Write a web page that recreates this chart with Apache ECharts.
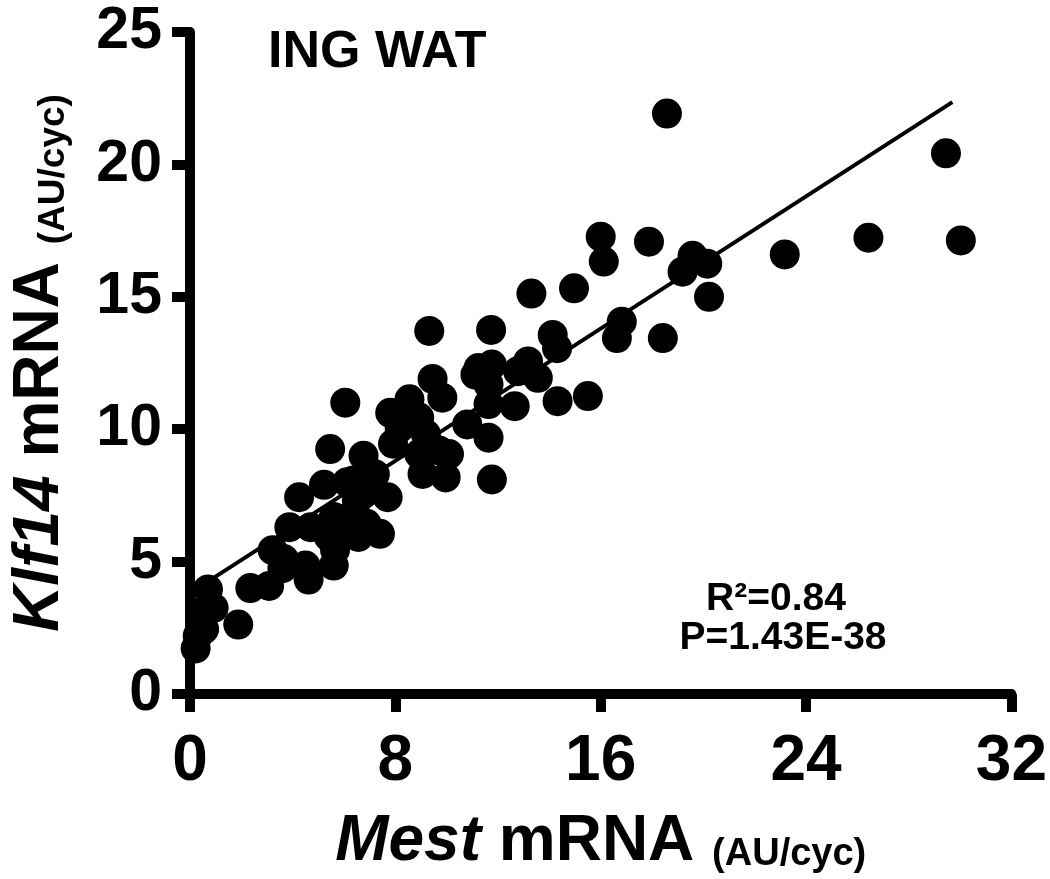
<!DOCTYPE html>
<html>
<head>
<meta charset="utf-8">
<script src="https://cdn.jsdelivr.net/npm/echarts@6/dist/echarts.min.js"></script>
<style>
  html, body { margin: 0; padding: 0; background: #fff; }
  #chart { width: 1050px; height: 879px; }
</style>
</head>
<body>
<div id="chart"></div>
<script>
// Mest mRNA (x) vs Klf14 mRNA (y)
var mestX = [
  0.22, 0.30, 0.55, 0.60, 0.92, 0.70, 1.88, 2.35, 3.08, 3.22,
  3.65, 3.60, 3.87, 4.50, 4.62, 4.25, 4.70, 5.60, 5.65, 5.41,
  5.86, 5.60, 6.24, 6.56, 6.88, 6.50, 6.76, 6.12, 5.22, 6.37,
  5.46, 6.76, 6.05, 7.40, 7.70, 7.91, 7.80, 8.17, 8.55, 8.93,
  9.19, 9.70, 8.93, 9.06, 9.96, 10.09, 9.45, 9.83, 9.32, 10.80,
  11.63, 11.76, 11.63, 11.24, 11.76, 11.63, 11.12, 11.73, 12.65, 12.78,
  13.17, 13.55, 13.30, 14.96, 14.13, 14.30, 14.32, 15.50, 16.82, 16.63,
  18.42, 16.00, 16.12, 17.88, 18.58, 19.58, 19.19, 20.15, 20.22, 23.17,
  26.43, 29.45, 30.03, 7.20
];
var klfY = [
  1.72, 2.20, 2.45, 3.20, 3.25, 3.95, 2.62, 4.00, 4.08, 5.43,
  5.10, 4.75, 6.30, 4.85, 4.32, 7.43, 6.30, 4.85, 5.45, 5.93,
  6.05, 6.68, 6.68, 5.93, 6.43, 7.31, 7.56, 8.00, 7.90, 8.06,
  9.25, 9.00, 11.00, 6.05, 7.43, 9.45, 10.62, 10.05, 11.13, 10.44,
  9.81, 9.20, 9.06, 8.31, 8.18, 9.06, 11.90, 11.19, 13.71, 10.18,
  9.68, 8.10, 10.95, 12.31, 12.44, 11.69, 12.06, 13.75, 10.87, 12.19,
  12.56, 11.94, 15.12, 15.32, 13.56, 13.06, 11.06, 11.25, 14.06, 13.44,
  13.44, 17.27, 16.33, 17.08, 21.92, 16.55, 15.95, 16.25, 15.00, 16.60,
  17.23, 20.42, 17.13, 8.30
];

// regression line end points
var fitX = [0.3, 29.7];
var fitY = [4.0, 22.35];

var xTicks = [0, 8, 16, 24, 32];
var yTicks = [0, 5, 10, 15, 20, 25];

var statLines = ['R\u00b2=0.84', 'P=1.43E-38'];

var points = mestX.map(function (x, i) { return [x, klfY[i]]; });
var fitLine = fitX.map(function (x, i) { return [x, fitY[i]]; });

var chart = echarts.init(document.getElementById('chart'));
var font = 'Liberation Sans, Arial, sans-serif';
var sp = '\u00a0';

function nameRich(small) {
  return {
    i: { fontFamily: font, fontWeight: 'bold', fontStyle: 'italic', fontSize: 64, color: '#000' },
    b: { fontFamily: font, fontWeight: 'bold', fontSize: 64, color: '#000' },
    s: { fontFamily: font, fontWeight: 'bold', fontSize: small, color: '#000', verticalAlign: 'bottom' }
  };
}

chart.setOption({
  animation: false,
  backgroundColor: '#fff',
  grid: { left: 181, right: 37, top: 32, bottom: 181 },
  xAxis: {
    type: 'value',
    min: xTicks[0],
    max: xTicks[xTicks.length - 1],
    interval: xTicks[1] - xTicks[0],
    splitLine: { show: false },
    axisLine: { show: true, onZero: false, lineStyle: { color: '#000', width: 10 } },
    axisTick: { show: true, length: 18, lineStyle: { color: '#000', width: 10 } },
    axisLabel: {
      margin: 36,
      color: '#000',
      fontFamily: 'Liberation Sans Narrow, Liberation Sans, Arial, sans-serif',
      fontWeight: 'bold',
      fontSize: 64
    },
    name: '{i|Mest' + sp + '}{b|mRNA' + sp + '}{s|(AU/cyc)}',
    nameLocation: 'middle',
    nameGap: 116,
    nameTextStyle: { rich: nameRich(38) }
  },
  yAxis: {
    type: 'value',
    min: yTicks[0],
    max: yTicks[yTicks.length - 1],
    interval: yTicks[1] - yTicks[0],
    splitLine: { show: false },
    axisLine: { show: true, onZero: false, lineStyle: { color: '#000', width: 10 } },
    axisTick: { show: true, length: 18, lineStyle: { color: '#000', width: 10 } },
    axisLabel: {
      margin: 28,
      color: '#000',
      fontFamily: font,
      fontWeight: 'bold',
      fontSize: 59
    },
    name: '{i|Klf14' + sp + '}{b|mRNA' + sp + '}{s|(AU/cyc)}',
    nameLocation: 'middle',
    nameRotate: 90,
    nameGap: 118,
    nameTextStyle: { rich: nameRich(37) }
  },
  graphic: [
    {
      type: 'text', left: 268, top: 27,
      style: { text: 'ING WAT', font: 'bold 52px ' + font, fill: '#000' }
    },
    {
      type: 'text', x: 776, y: 599,
      style: { text: statLines[0], font: 'bold 39px ' + font, fill: '#000', textAlign: 'center', textVerticalAlign: 'middle' }
    },
    {
      type: 'text', x: 783, y: 638,
      style: { text: statLines[1], font: 'bold 39px ' + font, fill: '#000', textAlign: 'center', textVerticalAlign: 'middle' }
    }
  ],
  series: [
    {
      type: 'line',
      data: fitLine,
      showSymbol: false,
      lineStyle: { color: '#000', width: 4 },
      z: 1,
      silent: true
    },
    {
      type: 'scatter',
      data: points,
      symbol: 'circle',
      symbolSize: 30,
      itemStyle: { color: '#000', opacity: 1 },
      z: 2
    }
  ]
});
</script>
</body>
</html>
